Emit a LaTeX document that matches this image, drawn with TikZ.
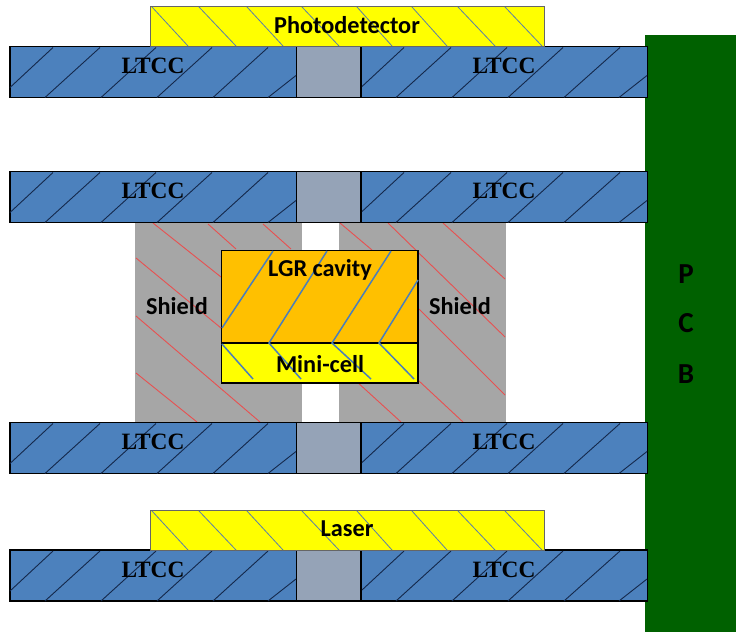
\documentclass[tikz,border=0pt]{standalone}
\usepackage{fontspec}
\setmainfont{Liberation Serif}
\newfontfamily\labelfont{Carlito}
\usetikzlibrary{positioning}
\definecolor{ltccblue}{RGB}{76,129,189}
\definecolor{viagray}{RGB}{149,163,183}
\definecolor{shieldgray}{RGB}{166,166,166}
\definecolor{pcbgreen}{RGB}{0,97,0}
\definecolor{cavityorange}{RGB}{255,192,0}
\definecolor{chipyellow}{RGB}{255,255,0}
\definecolor{hatchblue}{RGB}{74,126,187}
\definecolor{hatchred}{RGB}{232,80,80}
\definecolor{hatchdark}{RGB}{20,40,75}
\begin{document}
\begin{tikzpicture}[
    x=1pt, y=-1pt,
    block/.style={draw=black, line width=1.7pt, inner sep=0pt, outer sep=0pt, anchor=north west},
    ltcc/.style={block, fill=ltccblue, minimum width=286.5pt, minimum height=51pt},
    via/.style={block, fill=viagray, minimum width=64pt, minimum height=51pt},
    chip/.style={draw=black!60, line width=1pt, fill=chipyellow, inner sep=0pt, outer sep=0pt, anchor=north west, minimum width=393.5pt, minimum height=40pt},
    shield/.style={fill=shieldgray, inner sep=0pt, outer sep=0pt, anchor=north west, minimum width=167pt, minimum height=200pt},
    ltcctext/.style={font=\bfseries\fontsize{23.4}{24}\selectfont, inner sep=0pt},
    sanstext/.style={font=\labelfont\bfseries\fontsize{24.3}{25}\selectfont, inner sep=0pt},
    pcbtext/.style={font=\labelfont\bfseries\fontsize{29}{29}\selectfont, inner sep=0pt},
    dark/.style={hatchdark, line width=0.9pt},
    red/.style={hatchred, line width=0.9pt},
    blue/.style={hatchblue, line width=1.5pt},
    pale/.style={hatchblue!70!gray, line width=0.8pt}
]
    \useasboundingbox (0,0) rectangle (736,632);

    \node[fill=pcbgreen, inner sep=0pt, outer sep=0pt, anchor=north west, minimum width=91pt, minimum height=597pt] (pcb) at (645,35) {};

    \node[shield] (shieldl) at (135,222) {};
    \node[shield] (shieldr) at (339,222) {};
    % red hatch of the shields
    \foreach \xa/\ya/\xb/\yb in {153/223/221/277, 208/224/236/249, 263/224/291/249, 136/258/221/328,
        136/316/260/422, 136/373/197/422, 340/223/372/250, 388/223/505/337, 443/223/505/279,
        419/309/505/395, 419/381/463/422, 356/381/401/422}
        \draw[red] (\xa,\ya) -- (\xb,\yb);

    % the four LTCC rows
    \foreach \rowname/\rowy in {a/46.5, b/171.5, c/422.5, d/550} {
        \node[ltcc] (ltccl\rowname) at (10,\rowy) {};
        \node[ltcc] (ltccr\rowname) at (361,\rowy) {};
        \node[via] (via\rowname) at (296.5,\rowy) {};
        \begin{scope}[shift={(0,\rowy)}]
            \foreach \xa/\ya/\xb/\yb in {10/41/53/1, 45/51/100/1, 101/51/156/1, 157/51/212/1, 213/51/268/1, 268/51/296/29,
                362/40/404/1, 396/51/451/1, 452/51/507/1, 508/51/563/1, 564/51/620/1, 619/51/647/29}
                \draw[dark] (\xa,\ya) -- (\xb,\yb);
        \end{scope}
        \node[ltcctext] (labell\rowname) at (153,\rowy+19.5) {LTCC};
        \node[ltcctext] (labelr\rowname) at (504,\rowy+19.5) {LTCC};
    }

    \node[chip] (detector) at (150.5,6) {};
    \node[chip] (laser) at (150.5,510) {};
    % pale hatch of the two chips
    \foreach \chipy in {6, 510} {
        \begin{scope}[shift={(0,\chipy)}]
            \foreach \xa/\xb in {152/188, 199/236, 247/283, 302/339, 357/392, 412/447, 458/495, 505/542}
                \draw[pale] (\xa,1) -- (\xb,40);
        \end{scope}
    }
    \node[sanstext] (detectortext) at (347,25) {Photodetector};
    \node[sanstext] (lasertext) at (347,529) {Laser};

    \node[block, fill=cavityorange, minimum width=196.5pt, minimum height=92.5pt] (cavity) at (221.5,250.5) {};
    \node[block, fill=chipyellow, minimum width=196.5pt, minimum height=40pt] (minicell) at (221.5,343) {};
    % blue hatch over cavity and mini-cell
    \draw[blue] (273,251) -- (222,328);
    \draw[blue] (327,251) -- (269,343) -- (301,379);
    \draw[blue] (391,251) -- (332,343) -- (371,379);
    \draw[blue] (418,280) -- (379,343) -- (414,379);
    \draw[blue] (222,344) -- (253,379);

    \node[sanstext] (cavitytext) at (320,270) {LGR cavity};
    \node[sanstext] (minicelltext) at (320,364) {Mini-cell};
    \node[sanstext] (shieldltext) at (177,306) {Shield};
    \node[sanstext] (shieldrtext) at (460,306) {Shield};

    \node[pcbtext] (pcbp) at (686,274) {P};
    \node[pcbtext] (pcbc) at (686,323) {C};
    \node[pcbtext] (pcbb) at (686,374) {B};
\end{tikzpicture}
\end{document}
